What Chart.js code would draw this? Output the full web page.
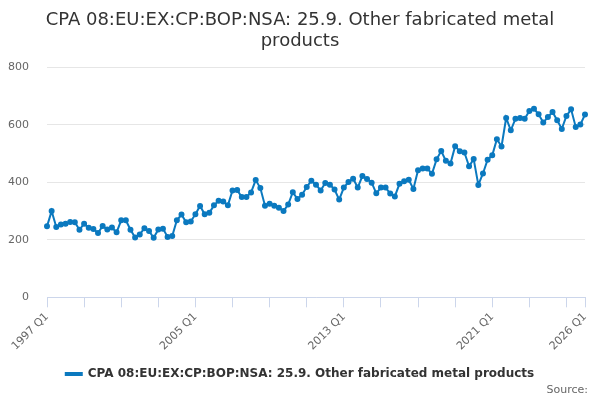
<!DOCTYPE html>
<html>
<head>
<meta charset="utf-8">
<script src="https://cdn.jsdelivr.net/npm/chart.js@4"></script>
<style>
    body { margin: 0; background: #fff; }
    #wrap { width: 600px; height: 400px; }
</style>
</head>
<body>
<div id="wrap"><canvas id="chart" width="600" height="400"></canvas></div>
<script>
// Series data (quarterly, 1997 Q1 - 2026 Q1)
const firstYear = 1997;
const seriesName = 'CPA 08:EU:EX:CP:BOP:NSA: 25.9. Other fabricated metal products';
const values = [
    247, 300, 245, 253, 256, 262, 261, 235, 256, 242, 238, 224, 248, 236, 243, 226,
    268, 268, 235, 208, 219, 240, 231, 207, 236, 239, 210, 213, 268, 288, 261, 264,
    289, 318, 289, 294, 320, 336, 333, 320, 372, 373, 349, 349, 365, 408, 380, 319,
    326, 319, 312, 300, 323, 366, 342, 357, 384, 406, 392, 372,
    398, 392, 375, 340, 382, 401, 413, 382, 422, 412, 399, 362, 382, 382, 361, 351,
    395, 404, 409, 377, 442, 448, 448, 430, 480, 509, 475, 466,
    526, 508, 504, 456, 481, 391, 431, 479, 494, 550, 525, 624, 581, 621, 624, 621,
    648, 656, 637, 608, 627, 645, 616, 586, 631, 654, 593, 601, 636
];
const shownLabels = ['1997 Q1', '2005 Q1', '2013 Q1', '2021 Q1', '2026 Q1'];
const yTicks = [0, 200, 400, 600, 800];

// quarter categories, one per value
const quarters = values.map((v, i) => (firstYear + Math.floor(i / 4)) + ' Q' + (i % 4 + 1));

const lineColor = '#0b79bf';
const lastIndex = quarters.length - 1;

// Source note under the legend
const sourceNote = {
    id: 'sourceNote',
    afterDraw(chart) {
        const ctx = chart.ctx;
        ctx.save();
        ctx.font = '11px "DejaVu Sans"';
        ctx.fillStyle = '#666666';
        ctx.textAlign = 'right';
        ctx.textBaseline = 'middle';
        ctx.fillText('Source:', 588, 390);
        ctx.restore();
    }
};

document.addEventListener('DOMContentLoaded', function() {
    const ctx = document.getElementById('chart').getContext('2d');
    new Chart(ctx, {
        type: 'line',
        data: {
            labels: quarters,
            datasets: [{
                label: seriesName,
                data: values,
                borderColor: lineColor,
                backgroundColor: lineColor,
                borderWidth: 2,
                pointRadius: 2,
                pointHoverRadius: 3,
                tension: 0,
                fill: false
            }]
        },
        options: {
            responsive: false,
            animation: false,
            layout: { padding: { left: 0, right: 0, top: 0, bottom: 10 } },
            plugins: {
                title: {
                    display: true,
                    text: ['CPA 08:EU:EX:CP:BOP:NSA: 25.9. Other fabricated metal', 'products'],
                    color: '#333333',
                    font: { family: 'DejaVu Sans', size: 18, weight: 'normal', lineHeight: 1.15 },
                    padding: { top: 10, bottom: 16 }
                },
                legend: {
                    position: 'bottom',
                    labels: {
                        color: '#333333',
                        font: { family: 'DejaVu Sans', size: 12, weight: 'bold' },
                        boxWidth: 16,
                        boxHeight: 2,
                        padding: 12
                    }
                },
                tooltip: { enabled: false }
            },
            scales: {
                x: {
                    // keep the plot edges where the reference has them
                    afterFit: s => { s.paddingLeft = 0; s.paddingRight = 15; },
                    grid: {
                        drawOnChartArea: false,
                        drawTicks: true,
                        tickLength: 10,
                        color: c => (c.index % 8 === 0 || c.index === lastIndex) ? '#ccd6eb' : 'rgba(0,0,0,0)'
                    },
                    border: { color: '#ccd6eb' },
                    ticks: {
                        autoSkip: false,
                        minRotation: 45,
                        maxRotation: 45,
                        color: '#666666',
                        font: { family: 'DejaVu Sans', size: 11 },
                        callback: function(value, index) {
                            const lab = quarters[index];
                            return shownLabels.includes(lab) ? lab : '';
                        }
                    }
                },
                y: {
                    min: 0,
                    max: 800,
                    afterBuildTicks: axis => { axis.ticks = yTicks.map(v => ({ value: v })); },
                    afterFit: axis => { axis.width = 47; },
                    grid: { color: '#e6e6e6', drawTicks: false },
                    border: { display: false },
                    ticks: {
                        color: '#666666',
                        padding: 18,
                        font: { family: 'DejaVu Sans', size: 11 }
                    }
                }
            }
        },
        plugins: [sourceNote]
    });
});
</script>
</body>
</html>
